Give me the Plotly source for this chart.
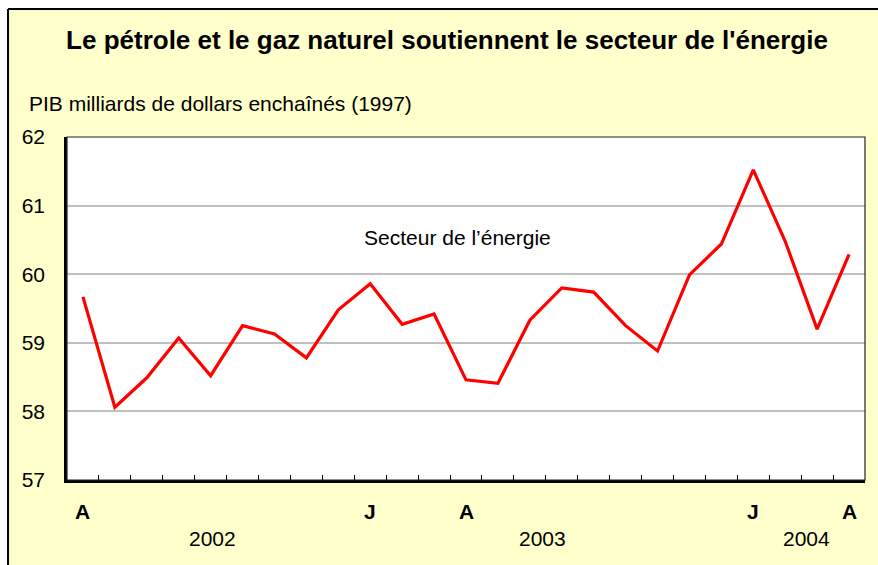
import plotly.graph_objects as go

months = ["2002-04", "2002-05", "2002-06", "2002-07", "2002-08", "2002-09", "2002-10",
          "2002-11", "2002-12", "2003-01", "2003-02", "2003-03", "2003-04", "2003-05",
          "2003-06", "2003-07", "2003-08", "2003-09", "2003-10", "2003-11", "2003-12",
          "2004-01", "2004-02", "2004-03", "2004-04"]
energy = [59.67, 58.06, 58.49, 59.07, 58.52, 59.25, 59.13, 58.78, 59.48, 59.86,
          59.27, 59.42, 58.46, 58.41, 59.33, 59.80, 59.74, 59.25, 58.88, 59.99,
          60.44, 61.52, 60.48, 59.20, 60.29]
month_label_idx = [0, 9, 12, 21, 24]
month_labels = ["A", "J", "A", "J", "A"]
year_pos = [4.06, 14.4, 22.66]
year_labels = ["2002", "2003", "2004"]
y_ticks = [57, 58, 59, 60, 61, 62]

FONT = "Liberation Sans, Arial, sans-serif"
x = list(range(len(months)))

fig = go.Figure()
fig.add_trace(go.Scatter(x=x, y=energy, mode="lines",
                         line=dict(color="#FF0000", width=3.2),
                         hoverinfo="skip", showlegend=False))

annotations = []
for i, t in zip(month_label_idx, month_labels):
    annotations.append(dict(x=i, y=-0.0904, xref="x", yref="paper", text=f"<b>{t}</b>",
                            showarrow=False, font=dict(size=21, color="black", family=FONT),
                            yanchor="middle"))
for p, t in zip(year_pos, year_labels):
    annotations.append(dict(x=p, y=-0.172, xref="x", yref="paper", text=t,
                            showarrow=False, font=dict(size=21, color="black", family=FONT),
                            yanchor="middle"))
annotations.append(dict(x=11.72, y=60.54, xref="x", yref="y", text="Secteur de l’énergie",
                        showarrow=False, font=dict(size=21, color="black", family=FONT)))
annotations.append(dict(x=-0.05, y=1.099, xref="paper", yref="paper",
                        text="PIB milliards de dollars enchaînés (1997)", xanchor="left",
                        yanchor="middle", showarrow=False,
                        font=dict(size=21, color="black", family=FONT)))

shapes = [
    # white margins outside the chart frame
    dict(type="rect", xref="paper", yref="paper", x0=-0.2, x1=1.2, y0=1.373, y1=1.6,
         fillcolor="white", line=dict(width=0), layer="below"),
    dict(type="rect", xref="paper", yref="paper", x0=-0.2, x1=-0.0739, y0=-0.5, y1=1.6,
         fillcolor="white", line=dict(width=0), layer="below"),
    # outer frame
    dict(type="line", xref="paper", yref="paper", x0=-0.0739, x1=1.2, y0=1.373, y1=1.373,
         line=dict(color="black", width=2)),
    dict(type="line", xref="paper", yref="paper", x0=-0.0739, x1=-0.0739, y0=-0.5, y1=1.373,
         line=dict(color="black", width=2)),
    # plot frame
    dict(type="rect", xref="paper", yref="paper", x0=0, x1=1, y0=0, y1=1,
         line=dict(color="#222222", width=1.2)),
]

fig.update_layout(
    width=878, height=565,
    margin=dict(l=67, r=13, t=137, b=85),
    paper_bgcolor="#FFFFCC", plot_bgcolor="white",
    font=dict(family=FONT, size=21, color="black"),
    title=dict(text="<b>Le pétrole et le gaz naturel soutiennent le secteur de l'énergie</b>",
               x=447 / 878, xref="container", xanchor="center",
               y=1 - 40 / 565, yref="container", yanchor="middle",
               font=dict(size=26, color="black", family=FONT)),
    xaxis=dict(range=[-0.5, len(months) - 0.5], showgrid=False, zeroline=False,
               tickmode="array", tickvals=[i + 0.5 for i in range(len(months) - 1)],
               ticktext=[""] * (len(months) - 1), ticks="inside", ticklen=5,
               tickcolor="black", tickwidth=1.2, showline=True, linecolor="black",
               linewidth=2.5, fixedrange=True),
    yaxis=dict(range=[57, 62], tickmode="array", tickvals=y_ticks,
               ticktext=[str(v) for v in y_ticks], showgrid=True, gridcolor="#C0C0C0",
               gridwidth=1.5, zeroline=False, ticks="", showline=True, linecolor="black",
               linewidth=2.5, ticklabelstandoff=15, tickfont=dict(size=21),
               fixedrange=True),
    annotations=annotations,
    shapes=shapes,
)

fig.write_html("out.html", config={"displayModeBar": False},
               post_script="document.body.style.margin='0';")
